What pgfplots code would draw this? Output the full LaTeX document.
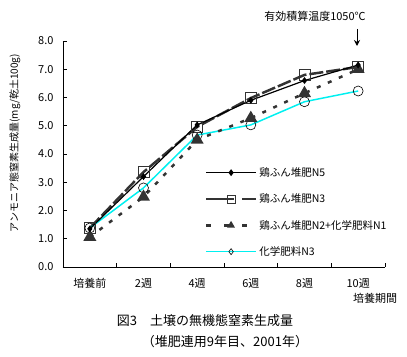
\documentclass[border=0pt]{standalone}
\usepackage{fontspec}
\setmainfont{Noto Sans CJK JP}
\usepackage{pgfplots}
\pgfplotsset{compat=1.18}
\usetikzlibrary{arrows.meta}
\definecolor{dg}{RGB}{51,51,51}
\definecolor{cy}{RGB}{0,240,240}
\begin{document}
\begin{tikzpicture}[x=1bp,y=1bp]
\useasboundingbox (0,0) rectangle (407,357);
\begin{axis}[
  at={(63bp,90bp)}, anchor=south west,
  scale only axis, width=322bp, height=226bp,
  xmin=-0.5, xmax=5.5, ymin=0, ymax=8,
  axis x line*=bottom, axis y line*=left,
  axis line style={line width=1pt,-},
  xtick={0,1,2,3,4,5},
  xticklabels={培養前,2週,4週,6週,8週,10週},
  major x tick style={draw=none},
  minor xtick={0.5,1.5,2.5,3.5,4.5,5.5},
  minor tick length=4bp,
  minor x tick style={line width=0.8pt},
  ytick={0,1,...,8},
  yticklabel style={/pgf/number format/fixed,/pgf/number format/fixed zerofill,/pgf/number format/precision=1},
  /pgf/number format/assume math mode=true,
  major tick length=4bp,
  tick style={line width=0.8pt,black},
  tick align=inside,
  ticklabel style={font=\fontsize{11bp}{13bp}\selectfont},
  xticklabel style={yshift=-8bp},
  yticklabel style={xshift=-6bp},
  clip=false,
]
\addplot[dg, line width=2.5pt, dash pattern=on 14bp off 3bp, mark=square, mark size=5.5bp,
  mark options={solid, line width=0.8pt, fill=white, draw=dg}]
  coordinates {(0,1.38)(1,3.36)(2,4.96)(3,5.98)(4,6.8)(5,7.08)};
\addplot[cy, line width=1.5pt, mark=o, mark size=5bp, mark options={solid, line width=0.6pt, fill=white, draw=black}]
  coordinates {(0,1.38)(1,2.8)(2,4.67)(3,5.03)(4,5.85)(5,6.23)};
\addplot[dg, line width=2.5pt, dash pattern=on 4bp off 8bp, mark=triangle*, mark size=5bp,
  mark options={solid, fill=dg, draw=dg}]
  coordinates {(0,1.06)(1,2.48)(2,4.5)(3,5.27)(4,6.15)(5,7.0)};
\addplot[black, line width=1.2pt, mark=diamond*, mark size=2.5bp, mark options={solid}]
  coordinates {(0,1.35)(1,3.2)(2,5.03)(3,5.9)(4,6.6)(5,7.15)};
\end{axis}
\begin{axis}[
  at={(63bp,90bp)}, anchor=south west,
  scale only axis, width=322bp, height=226bp,
  xmin=-0.5, xmax=5.5, ymin=0, ymax=8, hide axis,
  legend cell align=left,
  legend style={draw=none, fill=none, at={(0.44,0.45)}, anchor=north west,
    font=\fontsize{10.5bp}{12bp}\selectfont, row sep=12bp, inner sep=0pt},
  legend image code/.code={\draw[mark repeat=2,mark phase=2,#1] plot coordinates {(0cm,0cm)(0.88cm,0cm)(1.76cm,0cm)};},
]
\addlegendimage{black, line width=1.2pt, mark=diamond*, mark size=2.5bp, mark options={solid}}
\addlegendentry{鶏ふん堆肥N5}
\addlegendimage{dg, line width=2.5pt, dash pattern=on 28bp off 8bp, mark=square, mark size=4bp, mark options={solid, line width=0.8pt, fill=white, draw=dg}}
\addlegendentry{鶏ふん堆肥N3}
\addlegendimage{dg, line width=2.5pt, dash pattern=on 5bp off 13bp, mark=triangle*, mark size=2bp, mark options={solid, fill=dg}}
\addlegendentry{鶏ふん堆肥N2+化学肥料N1}
\addlegendimage{cy, line width=1.5pt, mark=diamond, mark size=3bp, mark options={solid, line width=0.6pt, fill=white, draw=black}}
\addlegendentry{化学肥料N3}
\end{axis}
\node[rotate=90, font=\fontsize{10bp}{11bp}\selectfont] at (15,214) {アンモニア態窒素生成量(mg/乾土100g)};
\node[font=\fontsize{11bp}{13bp}\selectfont] at (375,59) {培養期間};
\node[font=\fontsize{11bp}{13bp}\selectfont] at (315,341) {有効積算温度1050℃};
\draw[-{Stealth[length=6bp,width=6bp]}, line width=1pt] (357,328) -- (357,311);
\node[font=\fontsize{13bp}{15bp}\selectfont] at (205,36) {図3\hspace{1em}土壌の無機態窒素生成量};
\node[font=\fontsize{13bp}{15bp}\selectfont] at (225,15) {（堆肥連用9年目、2001年）};
\end{tikzpicture}
\end{document}
